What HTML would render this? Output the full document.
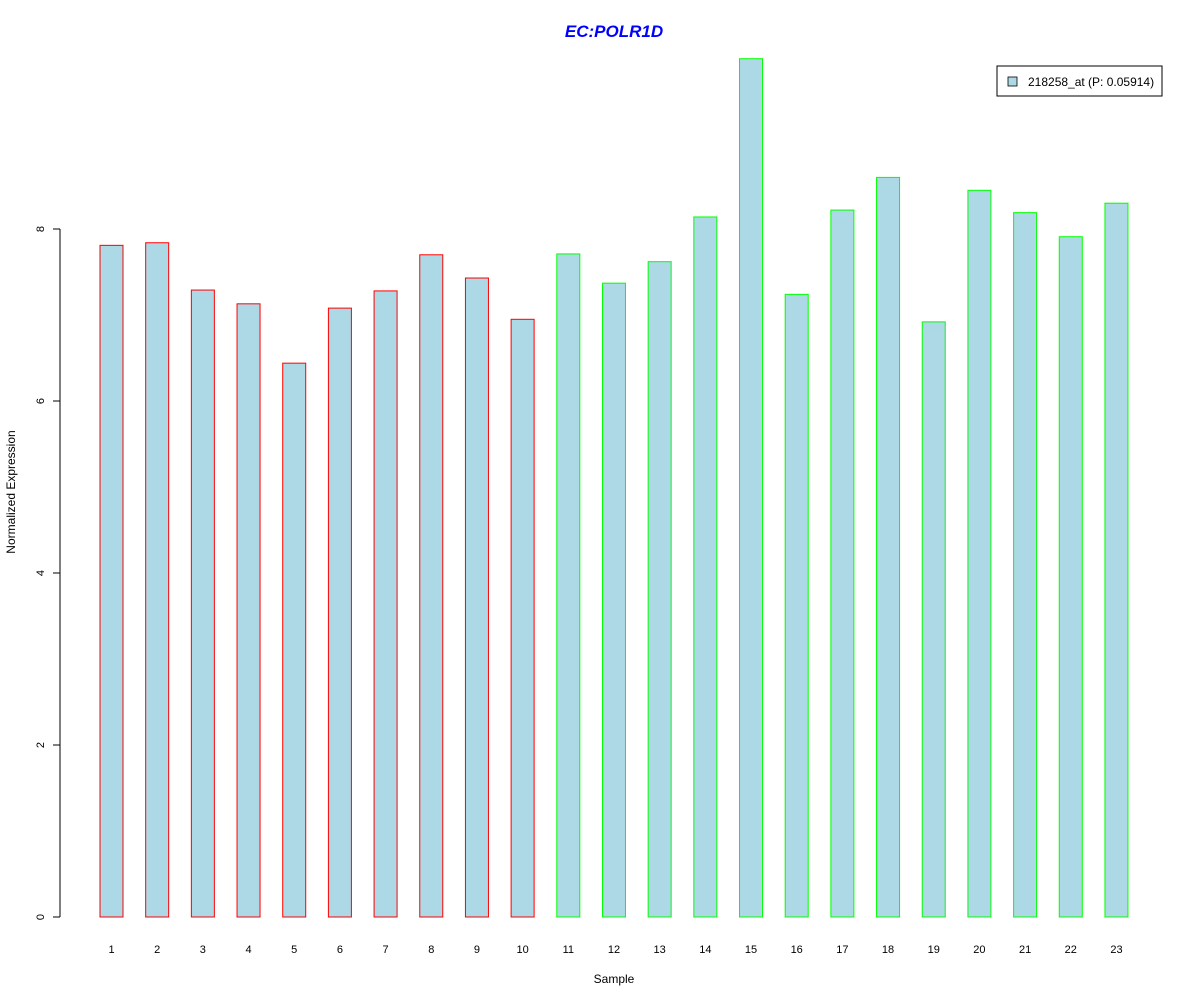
<!DOCTYPE html>
<html><head><meta charset="utf-8"><style>
body{margin:0;background:#fff;}
svg{display:block;font-family:"Liberation Sans",Arial,sans-serif;}
</style></head><body>
<svg id="chart" width="1200" height="1000">
<text x="614" y="37" text-anchor="middle" font-size="17" font-weight="bold" font-style="italic" fill="#0000ff">EC:POLR1D</text>
<text x="614" y="983" text-anchor="middle" font-size="12">Sample</text>
<text transform="translate(15,492) rotate(-90)" text-anchor="middle" font-size="12">Normalized Expression</text>
<g id="yaxis"></g>
<g id="bars"></g>
<g id="xlabels"></g>
<g>
<rect x="997" y="66" width="165" height="30" fill="#fff" stroke="#000" stroke-width="1"/>
<rect x="1008" y="77" width="9" height="9" fill="#add8e6" stroke="#000" stroke-width="0.8"/>
<text x="1028" y="86" font-size="12">218258_at (P: 0.05914)</text>
</g>
</svg>
<script>
const categories=["1","2","3","4","5","6","7","8","9","10","11","12","13","14","15","16","17","18","19","20","21","22","23"];
const values=[7.81,7.84,7.29,7.13,6.44,7.08,7.28,7.70,7.43,6.95,7.71,7.37,7.62,8.14,9.98,7.24,8.22,8.60,6.92,8.45,8.19,7.91,8.30];
const groups=["a","a","a","a","a","a","a","a","a","a","b","b","b","b","b","b","b","b","b","b","b","b","b"];
const yTicks=[0,2,4,6,8];
const NS="http://www.w3.org/2000/svg";
const y=v=>917-v*86;
const xc=i=>111.5+i*45.68;
const bw=23;
const mk=(t,a,p)=>{const e=document.createElementNS(NS,t);for(const k in a)e.setAttribute(k,a[k]);p.appendChild(e);return e;};
const ya=document.getElementById('yaxis');
const axl=mk('line',{x1:60,x2:60,y1:y(yTicks[0]),y2:y(yTicks[yTicks.length-1]),stroke:'#000'},ya);


yTicks.forEach(t=>{
  const l=mk('line',{x1:53,x2:60,y1:y(t),y2:y(t),stroke:'#000'},ya);
  
  
  const tx=mk('text',{transform:`translate(44,${y(t)}) rotate(-90)`,'text-anchor':'middle','font-size':11},ya);
  tx.textContent=t;
  
  
});
const bg=document.getElementById('bars'),xl=document.getElementById('xlabels');
values.forEach((v,i)=>{
  const r=mk('rect',{x:xc(i)-bw/2,y:y(v),width:bw,height:y(0)-y(v),fill:'#add8e6',stroke:groups[i]==='a'?'#ff0000':'#00ff00','stroke-width':1},bg);
  
  
  const t=mk('text',{x:xc(i),y:953,'text-anchor':'middle','font-size':11},xl);
  t.textContent=categories[i];
  
  
});
</script>
</body></html>
